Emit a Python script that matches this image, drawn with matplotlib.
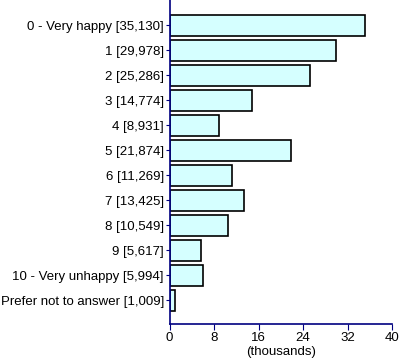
import numpy as np
import matplotlib
matplotlib.use('Agg')
import matplotlib.pyplot as plt

# datos
labels = ['0 - Very happy [35,130]', '1 [29,978]', '2 [25,286]', '3 [14,774]',
          '4 [8,931]', '5 [21,874]', '6 [11,269]', '7 [13,425]', '8 [10,549]',
          '9 [5,617]', '10 - Very unhappy [5,994]', 'Prefer not to answer [1,009]']
values = [35130, 29978, 25286, 14774, 8931, 21874, 11269, 13425, 10549, 5617, 5994, 1009]
xticks = [0, 8, 16, 24, 32, 40]

plt.rcParams['font.family'] = ['Liberation Sans', 'DejaVu Sans']
plt.rcParams['font.size'] = 9.5

fig = plt.figure(figsize=(4, 3.64), dpi=100)
ax = fig.add_axes([0.4238, 0.1099, 0.5562, 0.8901])

y = np.arange(len(values))
ax.barh(y, np.array(values) / 1000, height=0.83, color='#d5ffff',
        edgecolor='black', linewidth=1.2)

ax.set_xlim(0, 40)
ax.set_ylim(len(values) - 1 + 0.95, -1.02)
ax.set_xticks(xticks)
ax.set_yticks(y)
ax.set_yticklabels(labels)
ax.set_xlabel('(thousands)', labelpad=2)

for s in ['top', 'right']:
    ax.spines[s].set_visible(False)
for s in ['left', 'bottom']:
    ax.spines[s].set_color('#000080')
    ax.spines[s].set_linewidth(1.2)
ax.tick_params(axis='y', length=3, color='#000080', pad=1)
ax.tick_params(axis='x', length=4, color='#000080', pad=1.5)

fig.savefig('out.png', dpi=100)
